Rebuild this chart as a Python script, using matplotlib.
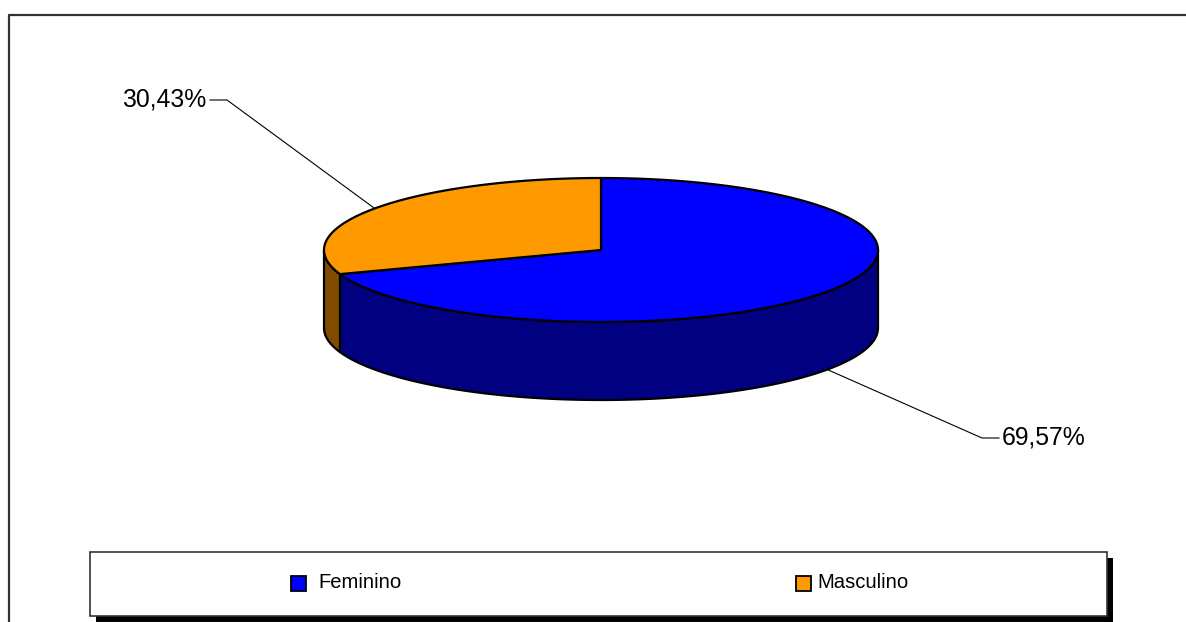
import numpy as np
import matplotlib
matplotlib.use('Agg')
import matplotlib.pyplot as plt
from matplotlib.patches import Polygon, Rectangle

categories = ['Feminino', 'Masculino']
values = [69.57, 30.43]
labels = ['69,57%', '30,43%']
top_colors = ['#0000FF', '#FF9900']
side_colors = ['#000080', '#804C00']

plt.rcParams['font.family'] = ['Liberation Sans', 'DejaVu Sans']

W, H = 1186, 622
fig = plt.figure(figsize=(W / 100, H / 100), dpi=100)
ax = fig.add_axes([0, 0, 1, 1])
ax.set_xlim(0, W)
ax.set_ylim(H, 0)
ax.axis('off')

# outer chart frame (cut by the image edges)
ax.plot([9, 9, W + 5], [H + 5, 15, 15], color='#333333', lw=1.6, solid_capstyle='butt')

# pie geometry (pixels)
cx, cy, rx, ry, depth = 601, 250, 277, 72, 78


def pt(a, dz=0):
    r = np.radians(a)
    return cx + rx * np.cos(r), cy - ry * np.sin(r) + dz


# slices: Masculino counter-clockwise from 12 o'clock, Feminino takes the rest
tot = sum(values)
span = [v / tot * 360 for v in values]
masc = (90, 90 + span[1])
fem = (90 + span[1], 450)
slices = {0: fem, 1: masc}

# side walls (front half only: angles 180..360)
for i, (a1, a2) in slices.items():
    lo, hi = max(a1, 180), min(a2, 360)
    if hi <= lo:
        continue
    ang = np.linspace(lo, hi, 200)
    top = [pt(a) for a in ang]
    bot = [pt(a, depth) for a in ang[::-1]]
    ax.add_patch(Polygon(top + bot, closed=True, facecolor=side_colors[i],
                         edgecolor='black', lw=1.6, joinstyle='round'))

# top faces
for i, (a1, a2) in slices.items():
    ang = np.linspace(a1, a2, 300)
    poly = [(cx, cy)] + [pt(a) for a in ang]
    ax.add_patch(Polygon(poly, closed=True, facecolor=top_colors[i],
                         edgecolor='black', lw=1.6, joinstyle='round'))

# data labels with leader lines
mid_m = (masc[0] + masc[1]) / 2
x0, y0 = pt(mid_m)
ax.plot([x0, 227, 210], [y0, 100, 100], color='black', lw=0.8)
ax.text(206, 100, labels[1], ha='right', va='center', fontsize=17.8)

mid_f = (fem[0] + fem[1]) / 2
x0, y0 = pt(mid_f, depth)
ax.plot([x0, 982, 999], [y0, 438, 438], color='black', lw=0.8)
ax.text(1002, 438, labels[0], ha='left', va='center', fontsize=17.8)

# legend box with black shadow
ax.add_patch(Rectangle((96, 558), 1017, 70, facecolor='black', edgecolor='none'))
ax.add_patch(Rectangle((90, 552), 1017, 64, facecolor='white', edgecolor='#333333', lw=1.2))
for i, lx, tx in zip([0, 1], [291, 796], [318, 817]):
    ax.add_patch(Rectangle((lx, 576), 15, 15, facecolor=top_colors[i], edgecolor='black', lw=1.3))
    ax.text(tx, 582, categories[i], ha='left', va='center', fontsize=14.6)

fig.savefig('out.png', dpi=100)
